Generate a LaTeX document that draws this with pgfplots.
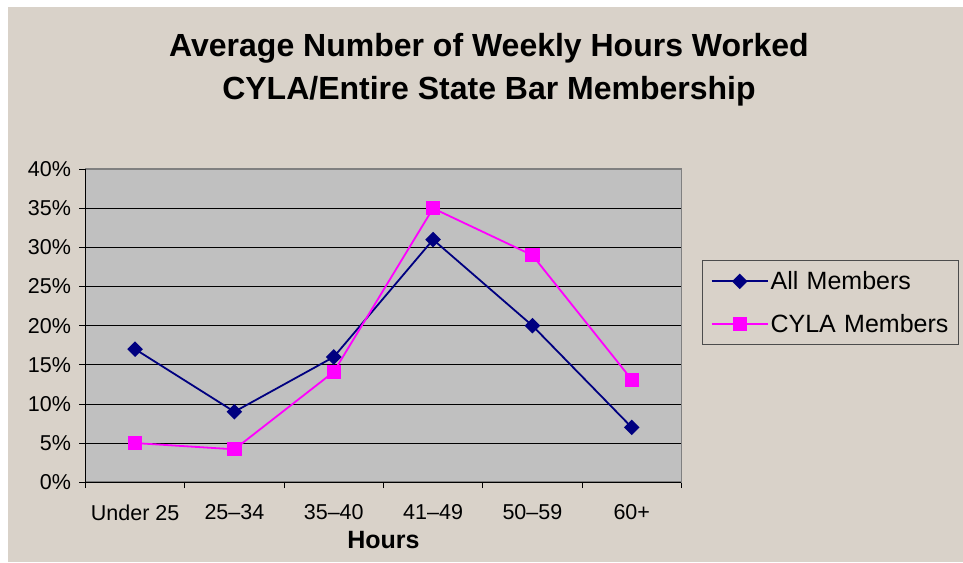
\documentclass[border=0pt]{standalone}
\usepackage{pgfplots}
\pgfplotsset{compat=1.18}
\usepackage{fontspec}
\setmainfont{Liberation Sans}
\definecolor{beige}{RGB}{217,210,201}
\definecolor{plotgray}{RGB}{192,192,192}
\definecolor{navy}{RGB}{0,0,128}
\definecolor{mag}{RGB}{255,0,255}
\begin{document}
\begin{tikzpicture}[x=1pt,y=1pt]
\fill[white] (0,0) rectangle (963,562);
\fill[beige] (8,0) rectangle (963,555);
\node[anchor=base,font=\fontsize{32}{38}\selectfont\bfseries] at (489,505) {Average Number of Weekly Hours Worked};
\node[anchor=base,font=\fontsize{32}{38}\selectfont\bfseries] at (489,462) {CYLA/Entire State Bar Membership};
\begin{axis}[
  at={(86,102)}, anchor=south west,
  scale only axis, width=596pt, height=313pt,
  xmin=-0.5, xmax=5.5, ymin=0, ymax=40,
  axis background/.style={fill=plotgray},
  axis line style={draw=gray, line width=1.6pt},
  ytick={0,5,...,40},
  yticklabels={0\%,5\%,10\%,15\%,20\%,25\%,30\%,35\%,40\%},
  ymajorgrids, grid style={black, line width=0.8pt},
  xtick={-0.5,0.5,...,5.5}, xticklabels={},
  extra x ticks={0,1,2,3,4,5},
  extra x tick labels={Under 25,25--34,35--40,41--49,50--59,60+},
  extra x tick style={major tick length=0pt, grid=none},
  xtick pos=lower, ytick pos=left,
  tick align=outside, major tick length=6pt,
  tick style={black, line width=0.8pt},
  ticklabel style={font=\fontsize{21.5}{25}\selectfont},
  yticklabel style={xshift=-5pt},
  xticklabel style={yshift=-19pt},
  xlabel={Hours},
  xlabel style={font=\fontsize{25}{29}\selectfont\bfseries, yshift=2pt},
  clip=false,
  legend cell align=left,
  legend style={at={(1.0352,0.7093)}, anchor=north west, fill=beige, draw=black!70, line width=0.8pt,
    font=\fontsize{25}{29}\selectfont, inner xsep=8pt, inner ysep=9pt, row sep=19pt,
    text width=178pt},
  legend image code/.code={\draw[mark repeat=2,mark phase=2] plot coordinates {(0pt,0pt) (28pt,0pt) (56pt,0pt)};},
  after end axis/.code={\draw[black, line width=0.9pt] (rel axis cs:0,1) -- (rel axis cs:0,0) -- (rel axis cs:1,0);},
]
\addplot[navy, line width=1.8pt, mark=square*, mark size=4.6pt, mark options={rotate=45, fill=navy}] coordinates {
(0,17) (1,9) (2,16) (3,31) (4,20) (5,7)};
\addlegendentry{All Members}
\addplot[mag, line width=1.8pt, mark=square*, mark size=6.2pt, mark options={fill=mag}] coordinates {
(0,5) (1,4.2) (2,14.1) (3,35) (4,29) (5,13.1)};
\addlegendentry{CYLA Members}
\end{axis}
\pgfresetboundingbox
\useasboundingbox (0,0) rectangle (963,562);
\end{tikzpicture}
\end{document}
